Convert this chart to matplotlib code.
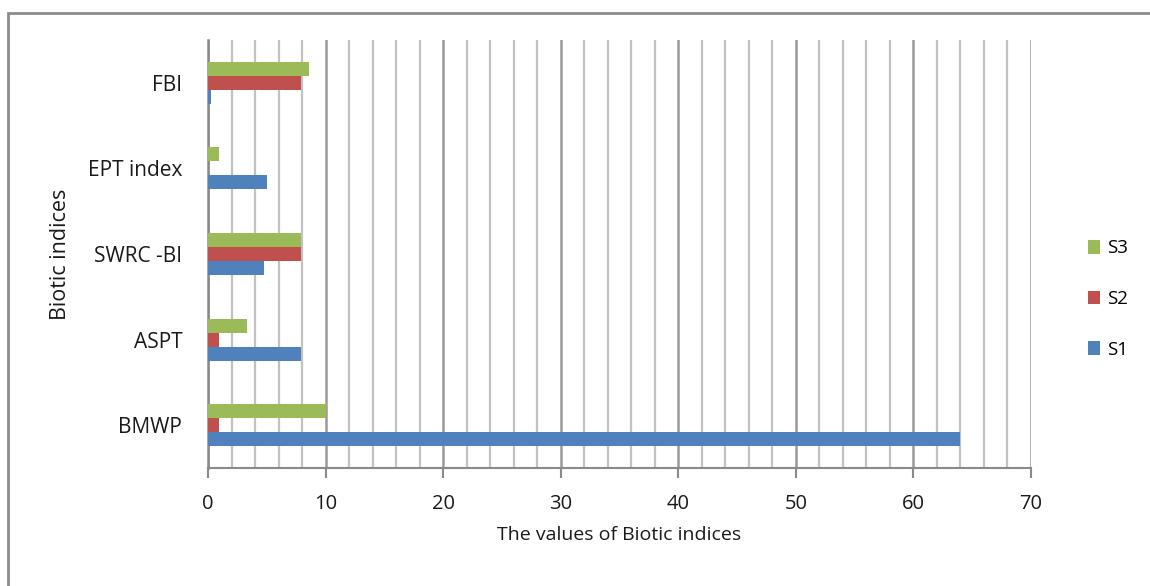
import matplotlib
matplotlib.use("Agg")
import matplotlib.pyplot as plt
import numpy as np
from matplotlib.patches import Rectangle, Patch
from matplotlib.ticker import MultipleLocator

categories = ["BMWP", "ASPT", "SWRC -BI", "EPT index", "FBI"]
series_names = ["S1", "S2", "S3"]
s1 = [64, 7.9, 4.8, 5.0, 0.25]
s2 = [0.9, 0.9, 7.9, 0.0, 7.9]
s3 = [10, 3.3, 7.9, 0.9, 8.6]
colors = ["#4F81BD", "#C0504D", "#9BBB59"]

plt.rcParams["font.family"] = ["Open Sans", "DejaVu Sans"]

W, H = 1150, 586
fig = plt.figure(figsize=(W / 100, H / 100), dpi=100)
ax = fig.add_axes([208 / W, 1 - 468 / H, (1031 - 208) / W, (468 - 40) / H])

y = np.arange(len(categories))
bh = 0.164
for i, (vals, c) in enumerate(zip([s1, s2, s3], colors)):
    ax.barh(y + (i - 1) * bh, vals, height=bh, color=c, zorder=3,
            edgecolor="none")

ax.set_xlim(0, 70)
ax.set_ylim(-0.5, len(categories) - 0.5)
ax.xaxis.set_major_locator(MultipleLocator(10))
ax.xaxis.set_minor_locator(MultipleLocator(2))
ax.grid(axis="x", which="minor", color="#c2c2c2", lw=1.6, zorder=1)
ax.grid(axis="x", which="major", color="#9a9a9a", lw=1.8, zorder=1)

ax.set_yticks(y)
ax.set_yticklabels(categories, fontsize=15, color="#1a1a1a")
ax.tick_params(axis="y", length=0, pad=18.5)
ax.tick_params(axis="x", which="major", length=7, width=1.5, color="#8a8a8a",
               pad=12, labelsize=14.5, labelcolor="#1a1a1a", direction="out")
ax.tick_params(axis="x", which="minor", length=0)

for s in ["top", "right"]:
    ax.spines[s].set_visible(False)
ax.spines["left"].set_color("#8a8a8a")
ax.spines["left"].set_linewidth(1.8)
ax.spines["bottom"].set_color("#8a8a8a")
ax.spines["bottom"].set_linewidth(1.5)

ax.set_xlabel("The values of Biotic indices", fontsize=14, color="#1a1a1a",
              labelpad=8)
ax.set_ylabel("Biotic indices", fontsize=15.5, color="#1a1a1a", labelpad=12)

handles = [Patch(facecolor=c, edgecolor="none") for c in colors][::-1]
labels = series_names[::-1]
fig.legend(handles, labels, loc="center left",
           bbox_to_anchor=(1088 / W, 1 - 299 / H), frameon=False,
           fontsize=13.5, handlelength=0.65, handleheight=0.75,
           handletextpad=0.35, labelspacing=1.75, borderaxespad=0,
           borderpad=0)

fig.patches.append(Rectangle((8 / W, -0.05), 1.1, (1 - 13 / H) + 0.05,
                             transform=fig.transFigure, fill=False,
                             edgecolor="#8c8c8c", lw=2))

fig.savefig("out.png", dpi=100, facecolor="white")
